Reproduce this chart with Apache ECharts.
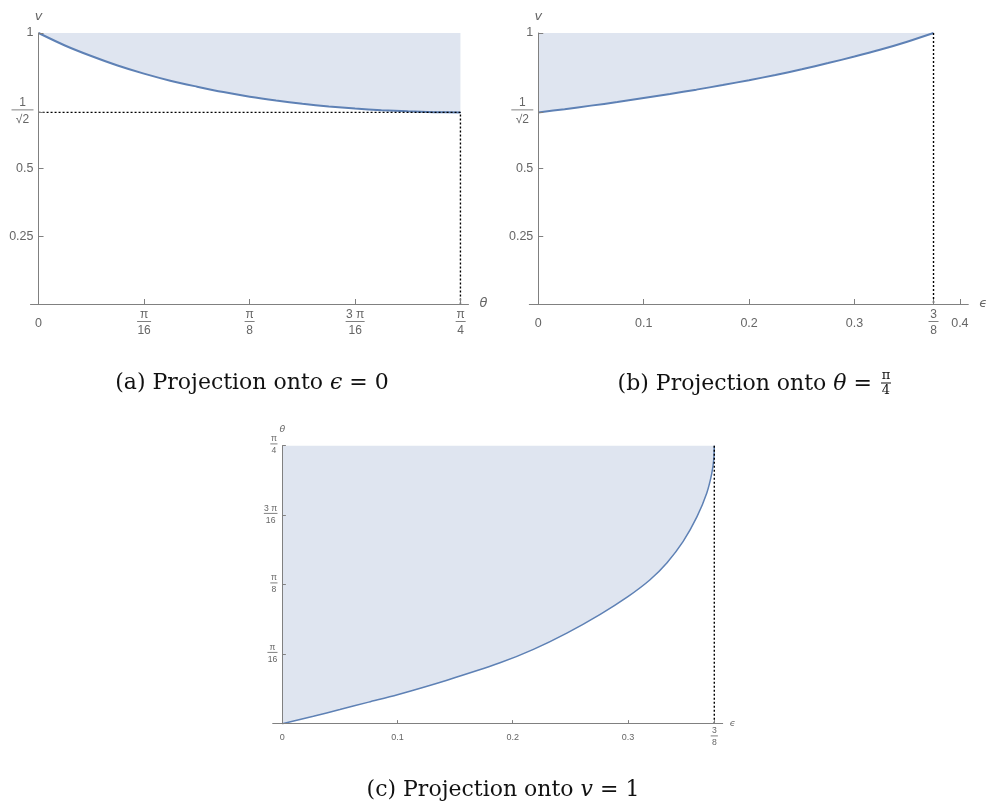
<!DOCTYPE html>
<html>
<head>
<meta charset="utf-8">
<script src="https://cdn.jsdelivr.net/npm/echarts@6/dist/echarts.min.js"></script>
<style>
html, body { margin: 0; padding: 0; background: #fff; }
#chart { width: 986px; height: 806px; }
</style>
</head>
<body>
<div id="chart"></div>
<script>
// (a) projection onto eps = 0 : v against theta
const aTheta = [0, 0.049, 0.098, 0.147, 0.196, 0.245, 0.295, 0.344, 0.393, 0.442, 0.491, 0.540, 0.589, 0.638, 0.687, 0.736, 0.785];
const aV = [1, 0.954, 0.915, 0.880, 0.850, 0.824, 0.802, 0.782, 0.765, 0.751, 0.739, 0.729, 0.721, 0.715, 0.711, 0.708, 0.707];
const aGuideX = [0, 0.785, 0.785];
const aGuideV = [0.707, 0.707, 0];

// (b) projection onto theta = pi/4 : v against eps
const bEps = [0, 0.025, 0.05, 0.075, 0.1, 0.125, 0.15, 0.175, 0.2, 0.225, 0.25, 0.275, 0.3, 0.325, 0.35, 0.375];
const bV = [0.707, 0.719, 0.732, 0.745, 0.760, 0.775, 0.791, 0.808, 0.826, 0.845, 0.866, 0.889, 0.913, 0.939, 0.968, 1];
const bGuideX = [0.375, 0.375];
const bGuideV = [1, 0];

// (c) projection onto v = 1 : theta against eps
const cEps = [0, 0.027, 0.05, 0.075, 0.1, 0.143, 0.189, 0.218, 0.247, 0.276, 0.3, 0.319, 0.334, 0.348, 0.36, 0.3685, 0.3727, 0.3745, 0.375];
const cTheta = [0, 0.021, 0.04, 0.061, 0.082, 0.123, 0.172, 0.210, 0.256, 0.309, 0.359, 0.406, 0.455, 0.515, 0.585, 0.652, 0.705, 0.745, 0.785];
const cGuideX = [0.375, 0.375];
const cGuideT = [0.785, 0];

// ticks and tick labels
const PI = Math.PI;
const thetaTickVals = [0, PI / 16, PI / 8, 3 * PI / 16, PI / 4];
const thetaTickText = ['0', 'π/16', 'π/8', '3 π/16', 'π/4'];
const vTickVals = [0.25, 0.5, Math.SQRT1_2, 1];
const vTickText = ['0.25', '0.5', '1/√2', '1'];
const epsTickVals = [0, 0.1, 0.2, 0.3, 0.375, 0.4];
const epsTickText = ['0', '0.1', '0.2', '0.3', '3/8', '0.4'];
const epsTickValsC = [0, 0.1, 0.2, 0.3, 0.375];
const epsTickTextC = ['0', '0.1', '0.2', '0.3', '3/8'];

const LINE = '#5e81b5';
const FILL = '#dfe5f0';
const TXT = '#666';
const AX = '#808080';
const barW = { 1: 10, 2: 14, 3: 19, 4: 22 };

function richFor(s) {
    const r = {
        t: { fontSize: 12.5 * s, color: TXT, fontFamily: 'Liberation Sans', lineHeight: 14 * s },
    };
    for (const L of [1, 2, 3, 4]) {
        r['n' + L] = { fontSize: 12 * s, color: TXT, fontFamily: 'Liberation Sans', width: barW[L] * s, align: 'center', lineHeight: 11 * s };
        r['b' + L] = { width: barW[L] * s, height: 1, backgroundColor: AX, lineHeight: 3 * s };
        r['d' + L] = { fontSize: 12 * s, color: TXT, fontFamily: 'Liberation Sans', width: barW[L] * s, align: 'center', lineHeight: 16 * s };
    }
    return r;
}

function fmt(vals, texts) {
    return function (val) {
        const i = vals.findIndex(v => Math.abs(v - val) < 1e-6);
        if (i < 0) return '';
        const s = texts[i];
        if (s.indexOf('/') < 0) return '{t|' + s + '}';
        const [n, d] = s.split('/');
        const L = d.indexOf('√') >= 0 ? 4 : Math.max(n.length, d.length);
        return '{n' + L + '|' + n + '}\n{b' + L + '| }\n{d' + L + '|' + d + '}';
    };
}

function xAxisOf(grid, min, max, tickVals, labelVals, labelText, name, s, gap, margin) {
    return {
        type: 'value', gridIndex: grid, min: min, max: max, z: 5,
        name: name, nameLocation: 'end', nameGap: gap,
        nameTextStyle: { fontStyle: 'italic', fontSize: 13 * s, color: TXT, fontFamily: 'DejaVu Sans' },
        axisLine: { lineStyle: { color: AX, width: 1 } },
        axisTick: { inside: true, length: 5 * s, customValues: tickVals, lineStyle: { color: AX } },
        axisLabel: { customValues: labelVals, formatter: fmt(labelVals, labelText), rich: richFor(s), margin: margin, verticalAlign: 'middle' },
        splitLine: { show: false },
    };
}

// the y axis line sits on x = 0, but its labels are placed from the grid edge, hence the negative margins
function yAxisOf(grid, min, max, tickVals, labelText, name, s, gap, margin) {
    return {
        type: 'value', gridIndex: grid, min: min, max: max, z: 5,
        name: name, nameLocation: 'end', nameGap: gap,
        nameTextStyle: { fontStyle: 'italic', fontSize: 13 * s, color: TXT, fontFamily: 'DejaVu Sans' },
        axisLine: { onZero: true, lineStyle: { color: AX, width: 1 } },
        axisTick: { inside: true, length: 5 * s, customValues: tickVals, lineStyle: { color: AX } },
        axisLabel: { customValues: tickVals, formatter: fmt(tickVals, labelText), rich: richFor(s), margin: margin },
        splitLine: { show: false },
    };
}

function curve(idx, xs, ys, w) {
    return {
        type: 'line', xAxisIndex: idx, yAxisIndex: idx, z: 2,
        data: xs.map((x, i) => [x, ys[i]]),
        showSymbol: false, smooth: 0.3, silent: true,
        lineStyle: { color: LINE, width: w },
        areaStyle: { origin: 'end', color: FILL, opacity: 1 },
    };
}

function guide(idx, xs, ys) {
    return {
        type: 'line', xAxisIndex: idx, yAxisIndex: idx, z: 3,
        data: xs.map((x, i) => [x, ys[i]]),
        showSymbol: false, silent: true,
        lineStyle: { color: '#000', width: 1.4, type: [2, 2] },
    };
}

const chart = echarts.init(document.getElementById('chart'));

const option = {
    animation: false,
    backgroundColor: '#fff',
    grid: [
        { left: 30.5, top: 33, width: 438, height: 271, containLabel: false, outerBoundsMode: 'none' },
        { left: 529.3, top: 33, width: 439, height: 271, containLabel: false, outerBoundsMode: 'none' },
        { left: 272.7, top: 445.7, width: 450, height: 278, containLabel: false, outerBoundsMode: 'none' },
    ],
    xAxis: [
        xAxisOf(0, -0.015, 0.8, thetaTickVals.slice(1), thetaTickVals, thetaTickText, 'θ', 1, 11, 20),
        xAxisOf(1, -0.0085, 0.408, epsTickVals.slice(1), epsTickVals, epsTickText, 'ϵ', 1, 11, 20),
        xAxisOf(2, -0.0083, 0.3823, epsTickValsC.slice(1), epsTickValsC, epsTickTextC, 'ϵ', 0.72, 7, 14),
    ],
    yAxis: [
        yAxisOf(0, 0, 1, vTickVals, vTickText, 'v', 1, 10, -3),
        yAxisOf(1, 0, 1, vTickVals, vTickText, 'v', 1, 10, -4),
        yAxisOf(2, 0, PI / 4, thetaTickVals.slice(1), thetaTickText.slice(1), 'θ', 0.72, 6, -4.8),
    ],
    series: [
        curve(0, aTheta, aV, 2),
        guide(0, aGuideX, aGuideV),
        curve(1, bEps, bV, 2),
        guide(1, bGuideX, bGuideV),
        curve(2, cEps, cTheta, 1.5),
        guide(2, cGuideX, cGuideT),
    ],
    graphic: [
        {
            type: 'text', x: 252, y: 383, silent: true,
            style: {
                text: '(a) Projection onto {m|ϵ} = 0',
                fontSize: 22, fontFamily: 'DejaVu Serif', fill: '#111', align: 'center', verticalAlign: 'middle',
                rich: { m: { fontSize: 22, fontFamily: 'DejaVu Serif', fontStyle: 'italic', fill: '#111' } },
            },
        },
        {
            type: 'text', x: 879, y: 384, silent: true,
            style: {
                text: '(b) Projection onto {m|θ} = ',
                fontSize: 22, fontFamily: 'DejaVu Serif', fill: '#111', align: 'right', verticalAlign: 'middle',
                rich: { m: { fontSize: 22, fontFamily: 'DejaVu Serif', fontStyle: 'italic', fill: '#111' } },
            },
        },
        {
            type: 'text', x: 886, y: 384, silent: true,
            style: {
                text: '{n|π}\n{b| }\n{d|4}',
                align: 'center', verticalAlign: 'middle',
                rich: {
                    n: { fontSize: 13, fontFamily: 'DejaVu Serif', fill: '#111', lineHeight: 11, width: 10, align: 'center' },
                    b: { width: 10, height: 1, backgroundColor: '#111', lineHeight: 3 },
                    d: { fontSize: 13, fontFamily: 'DejaVu Serif', fill: '#111', lineHeight: 13, width: 10, align: 'center' },
                },
            },
        },
        {
            type: 'text', x: 503, y: 790, silent: true,
            style: {
                text: '(c) Projection onto {m|v} = 1',
                fontSize: 22, fontFamily: 'DejaVu Serif', fill: '#111', align: 'center', verticalAlign: 'middle',
                rich: { m: { fontSize: 22, fontFamily: 'DejaVu Serif', fontStyle: 'italic', fill: '#111' } },
            },
        },
    ],
};

chart.setOption(option);
</script>
</body>
</html>
